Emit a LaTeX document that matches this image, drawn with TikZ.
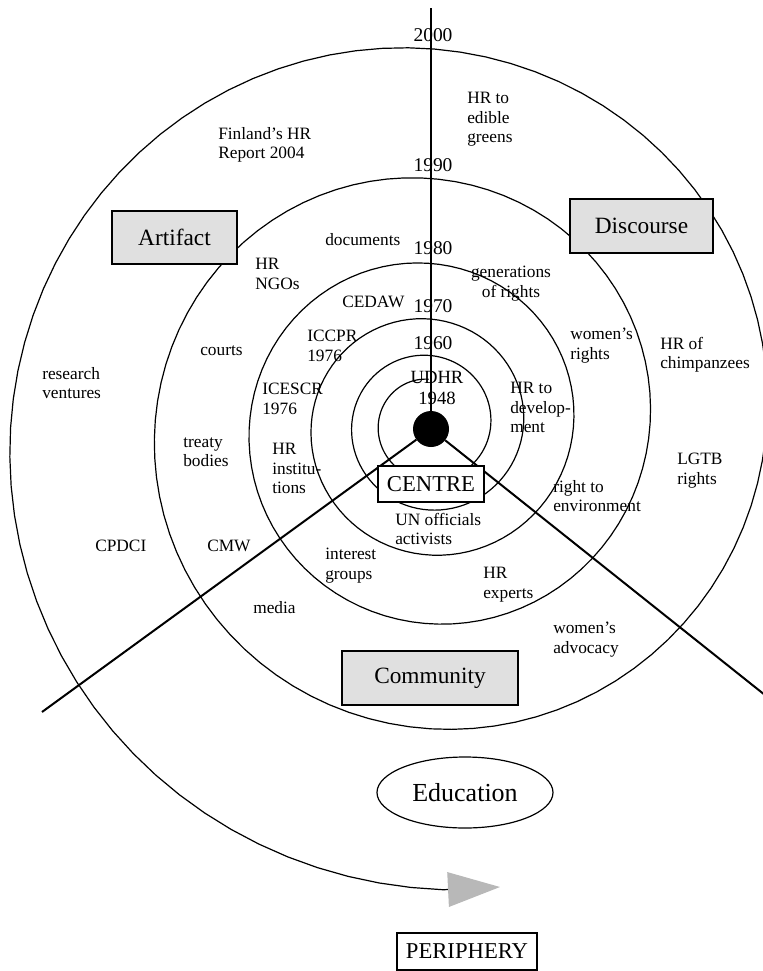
\documentclass[tikz,border=0pt]{standalone}
\usepackage{fontspec}
\setmainfont{Liberation Serif}
\usetikzlibrary{shapes.geometric, arrows.meta}

\begin{document}
\begin{tikzpicture}[x=0.75pt, y=-0.75pt,
    note/.style={anchor=north west, align=left, inner sep=0pt, font=\fontsize{13}{14.6}\selectfont},
    year/.style={inner sep=0pt, font=\fontsize{14.6}{17}\selectfont},
    field/.style={draw, line width=1.1pt, fill=black!12, inner sep=0pt, font=\fontsize{17.5}{20}\selectfont},
    pole/.style={draw, line width=0.9pt, fill=white, inner sep=0pt, font=\fontsize{17}{20}\selectfont},
    axis/.style={line width=1.5pt}]
    % Canvas
    \useasboundingbox (0,0) rectangle (763,971);
    \clip (0,0) rectangle (763,971);

    % Spiral from the centre out to the periphery
    \draw[line width=0.9pt, -{Triangle[length=39pt, width=26pt, color=black!28]}]
        plot[domain=-0.75:4.7566, samples=500]
            ({428.6+62.2*exp(0.4233*\x)*cos(360*\x)}, {424.5-62.2*exp(0.4233*\x)*sin(360*\x)})
        -- (500,887);

    % Axes
    \node[circle, fill=black, minimum size=27pt, inner sep=0pt] (hub) at (431,429) {};
    \coordinate (north end) at (431,8);
    \coordinate (west end) at (42,712);
    \coordinate (east end) at (775,703);
    \draw[axis] (hub) -- (north end);
    \draw[axis] (hub) -- (west end);
    \draw[axis] (hub) -- (east end);

    % Years
    \node[year] (y2000) at (433,35) {2000};
    \node[year] (y1990) at (433,165) {1990};
    \node[year] (y1980) at (433,248) {1980};
    \node[year] (y1970) at (433,306) {1970};
    \node[year] (y1960) at (433,343) {1960};
    \node[year, align=center, anchor=north, font=\fontsize{14}{15.75}\selectfont] (udhr) at (437,371) {UDHR\\1948};

    % Fields
    \node[field, minimum width=93.75pt, minimum height=39.75pt] (artifact) at (174.5,237.5) {Artifact};
    \node[field, minimum width=107.25pt, minimum height=40.5pt] (discourse) at (641.5,226) {Discourse};
    \node[field, minimum width=132pt, minimum height=40.5pt] (community) at (430,678) {Community};

    % Centre and periphery
    \node[pole, minimum width=79.5pt, minimum height=27pt] (centre) at (431,484) {CENTRE};
    \node[pole, ellipse, minimum width=132pt, minimum height=53.25pt, font=\fontsize{19.5}{22}\selectfont] (education) at (465,792.5) {Education};
    \node[pole, minimum width=105pt, minimum height=27.75pt] (periphery) at (467,951.5) {PERIPHERY};

    % Items
    \node[note] (finland) at (218,127) {Finland's HR\\Report 2004};
    \node[note] (greens) at (467,92) {HR to\\edible\\greens};
    \node[note, align=center, anchor=north] (generations) at (511,266) {generations\\of rights};
    \node[note] (documents) at (325,233) {documents};
    \node[note] (ngos) at (255,258) {HR\\NGOs};
    \node[note] (cedaw) at (342,296) {CEDAW};
    \node[note] (courts) at (200,345) {courts};
    \node[note] (iccpr) at (307,330) {ICCPR\\1976};
    \node[note] (icescr) at (262,383) {ICESCR\\1976};
    \node[note] (research) at (42,367) {research\\ventures};
    \node[note] (treaty) at (183,437) {treaty\\bodies};
    \node[note] (institutions) at (272,443) {HR\\institu-\\tions};
    \node[note] (cpdci) at (95,540) {CPDCI};
    \node[note] (cmw) at (207,540) {CMW};
    \node[note] (interest) at (325,548) {interest\\groups};
    \node[note] (media) at (253,601) {media};
    \node[note] (officials) at (395,513) {UN officials\\activists};
    \node[note] (womenrights) at (570,328) {women's\\rights};
    \node[note] (chimps) at (660,337) {HR of\\chimpanzees};
    \node[note] (development) at (510,382) {HR to\\develop-\\ment};
    \node[note] (lgtb) at (677,453) {LGTB\\rights};
    \node[note] (environment) at (553,480) {right to\\environment};
    \node[note] (experts) at (483,567) {HR\\experts};
    \node[note] (advocacy) at (553,622) {women's\\advocacy};
\end{tikzpicture}
\end{document}
